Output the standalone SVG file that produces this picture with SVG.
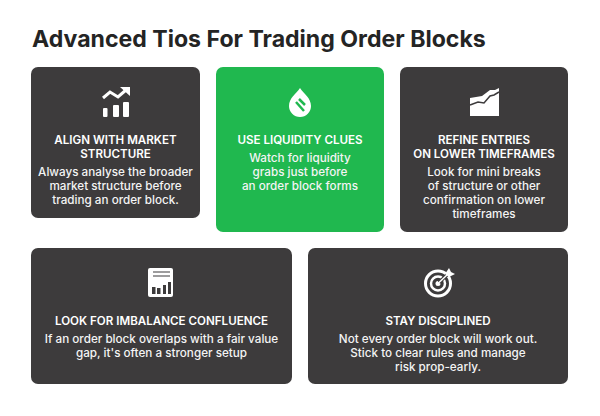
<svg xmlns="http://www.w3.org/2000/svg" width="600" height="416" viewBox="0 0 600 416">
<style>
text{font-family:Inter,"Liberation Sans",sans-serif;text-anchor:middle}
.d{fill:#3d3b3c}
.h{font-size:11.6px;font-weight:600;fill:#fff}
.b{font-size:11.7px;font-weight:500;fill:#f4f4f4}
.i{fill:#fff}
.s{fill:none;stroke:#fff}
.k{fill:none;stroke:#3d3b3c}
</style>
<rect width="600" height="416" fill="#fff"/>
<text x="32" y="47" style="text-anchor:start;font-size:23.1px;font-weight:700;fill:#242424">Advanced Tios For Trading Order Blocks</text>
<g id="card-align">
<rect class="d" x="31" y="67" width="169" height="151" rx="7"/>
<g id="icon-align">
<rect class="i" x="103" y="108" width="4.500" height="9" rx="1"/><rect class="i" x="113" y="105" width="6" height="12" rx="1"/><rect class="i" x="123" y="102" width="6" height="15" rx="1"/>
<path class="s" stroke-width="3" d="M103 98L110 92L118 97L126 90"/><path class="i" d="M120 87L130 87L130 96Z"/>
</g>
<text class="h" x="115.500" y="144">ALIGN WITH MARKET</text><text class="h" x="115.500" y="158">STRUCTURE</text>
<text class="b" x="115.500" y="176">Always analyse the broader</text><text class="b" x="115.500" y="190">market structure before</text><text class="b" x="115.500" y="204">trading an order block.</text>
</g>
<g id="card-liquidity">
<rect x="216" y="67" width="168" height="165" rx="7" fill="#20b84f"/>
<path class="i" d="M300 88C304 94 311 98 311 106A11 11 0 0 1 289 106C289 98 296 94 300 88Z"/>
<path d="M296 102L304 111M299 99L305 105" stroke="#20b84f" stroke-width="2.500" fill="none"/>
<text class="h" x="300" y="144">USE LIQUIDITY CLUES</text>
<text class="b" x="300" y="162">Watch for liquidity</text><text class="b" x="300" y="176">grabs just before</text><text class="b" x="300" y="190">an order block forms</text>
</g>
<g id="card-refine">
<rect class="d" x="400" y="67" width="168" height="165" rx="7"/>
<path class="i" d="M470 98L482 96L490 90L495 90L499 88V116H470Z"/>
<path class="k" stroke-width="1.500" d="M470 105L478 102L484 103L490 96L494 95L499 92"/>
<text class="h" x="484" y="144">REFINE ENTRIES</text><text class="h" x="484" y="158">ON LOWER TIMEFRAMES</text>
<text class="b" x="484" y="176">Look for mini breaks</text><text class="b" x="484" y="190">of structure or other</text><text class="b" x="484" y="204">confirmation on lower</text><text class="b" x="484" y="218">timeframes</text>
</g>
<g id="card-imbalance">
<rect class="d" x="31" y="248" width="261" height="136" rx="7"/>
<rect class="i" x="148" y="268" width="25" height="29" rx="2"/>
<path class="k" stroke-width="1.200" d="M153 272H170M153 276H170"/>
<rect class="d" x="152" y="287" width="3.500" height="7"/><rect class="d" x="157" y="288" width="3.500" height="6"/><rect class="d" x="163" y="285" width="3" height="9"/><rect class="d" x="168" y="282" width="3" height="12"/>
<text class="h" x="161.500" y="324.500">LOOK FOR IMBALANCE CONFLUENCE</text>
<text class="b" x="161.500" y="342.500">If an order block overlaps with a fair value</text><text class="b" x="161.500" y="356.500">gap, it's often a stronger setup</text>
</g>
<g id="card-disciplined">
<rect class="d" x="308" y="248" width="260" height="136" rx="7"/>
<circle class="s" cx="438" cy="283.500" r="12.500" stroke-width="3"/><circle class="s" cx="438" cy="283.500" r="7" stroke-width="2.500"/><circle class="i" cx="438" cy="283.500" r="2.500"/>
<path class="k" stroke-width="3.500" d="M439 282.500L449 273"/>
<path class="s" stroke-width="1.500" d="M438 283.500L448 274"/>
<path class="i" d="M445 274L449 268L451 272L455 274L449 277Z"/>
<text class="h" x="438" y="324.500">STAY DISCIPLINED</text>
<text class="b" x="438" y="342.500">Not every order block will work out.</text><text class="b" x="438" y="356.500">Stick to clear rules and manage</text><text class="b" x="438" y="370.500">risk prop-early.</text>
</g>
</svg>
